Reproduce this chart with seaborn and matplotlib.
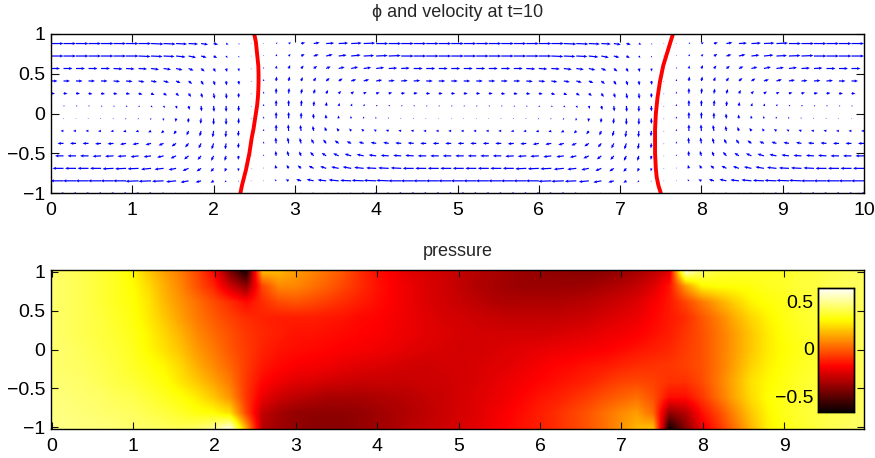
import numpy as np
import matplotlib
matplotlib.use('Agg')
import matplotlib.pyplot as plt
import seaborn as sns

# velocity, 1 unit = half a pixel of arrow length
# the field repeats every 33 columns in the picture, so one stretch is listed
u_period = [
    [25,25,25,25,25,25,25,25,25,24,22,19,14,9,5,2,1, 1,3,5,8,12,16,19,21,23,24,25,25,25,25,25,25],
    [25,25,25,25,25,25,25,24,23,22,19,15,11,7,3,1,0, 0,2,4,7,10,13,16,19,21,23,24,25,25,25,25,25],
    [18,18,18,18,18,18,17,17,16,15,13,10,7,4,2,1,0, 0,1,3,5,7,9,12,14,15,16,17,17,18,18,18,18],
    [13,13,13,13,13,13,13,12,12,11,9,7,5,3,1,1,0, 0,1,2,3,5,7,8,10,11,12,12,13,13,13,13,13],
    [8,8,8,8,8,8,8,8,7,7,6,5,3,2,1,0,0, 0,0,1,2,3,4,5,6,6,7,7,8,8,8,8,8],
    [3,3,3,3,3,3,3,3,3,3,2,2,1,1,0,0,0, 0,0,0,1,1,1,2,2,2,3,3,3,3,3,3,3],
    [-1,-1,-1,-2,-2,-2,-2,-2,-2,-1,-1,-1,-1,0,0,0,0, 0,0,0,0,-1,-1,-1,-1,-1,-2,-2,-2,-2,-2,-1,-1],
    [-6,-6,-6,-6,-6,-6,-6,-6,-6,-5,-5,-4,-3,-2,-1,-1,0, 0,0,-1,-2,-2,-3,-4,-4,-5,-5,-6,-6,-6,-6,-6,-6],
    [-12,-12,-12,-12,-12,-12,-12,-12,-11,-10,-9,-7,-5,-4,-2,-1,0, 0,-1,-2,-3,-5,-6,-8,-9,-10,-11,-11,-12,-12,-12,-12,-12],
    [-17,-17,-17,-17,-17,-17,-17,-16,-15,-13,-11,-9,-7,-5,-3,-1,0, 0,-1,-3,-4,-7,-9,-11,-13,-14,-15,-16,-16,-17,-17,-17,-17],
    [-22,-22,-22,-22,-22,-22,-22,-22,-20,-18,-15,-12,-9,-6,-3,-1,0, 0,-2,-4,-7,-10,-12,-15,-17,-19,-20,-21,-21,-22,-22,-22,-22],
    [-26,-26,-26,-26,-26,-26,-26,-26,-25,-23,-20,-16,-11,-6,-3,-1,0, 0,-3,-6,-10,-14,-17,-20,-22,-24,-25,-25,-26,-26,-26,-26,-26],
    [-6,-6,-6,-6,-6,-6,-6,-6,-6,-5,-4,-4,-3,-2,-1,0,0, 0,-1,-1,-2,-3,-3,-4,-4,-5,-5,-5,-6,-6,-6,-6,-6],
]
v_period = [
    [0,0,0,0,0,0,0,0,-1,-1,-1,-1,-2,-2,-2,-2,-1, 1,2,2,2,2,1,1,1,1,0,0,0,0,0,0,0],
    [0,0,0,0,0,0,0,-1,-1,-1,-2,-3,-3,-4,-4,-3,-1, 2,4,4,4,3,3,2,2,1,1,1,0,0,0,0,0],
    [0,0,0,0,0,-1,-1,-1,-2,-2,-3,-4,-6,-7,-7,-6,-2, 3,6,7,6,5,4,3,3,2,2,1,1,0,0,0,0],
    [0,0,0,0,0,-1,-1,-2,-2,-3,-4,-6,-8,-9,-9,-8,-2, 4,9,9,8,7,6,5,3,3,2,1,1,1,0,0,0],
    [0,0,0,-1,-1,-1,-1,-2,-3,-4,-5,-7,-9,-11,-11,-9,-2, 4,11,11,10,9,7,5,4,3,2,2,1,1,0,0,0],
    [0,0,0,0,-1,-1,-2,-2,-3,-4,-6,-8,-11,-12,-12,-11,-2, 4,12,12,12,10,8,6,5,4,2,2,1,1,0,0,0],
    [0,0,0,0,-1,-1,-2,-2,-3,-5,-7,-9,-11,-13,-13,-11,-2, 4,13,13,12,10,8,6,5,4,3,2,1,1,0,0,0],
    [0,0,0,0,-1,-1,-2,-2,-3,-5,-7,-9,-11,-13,-13,-11,-2, 4,13,13,12,10,8,6,5,4,3,2,1,1,0,0,0],
    [0,0,0,0,-1,-1,-2,-2,-3,-4,-6,-8,-10,-12,-12,-10,-2, 4,12,12,11,9,8,6,4,3,2,2,1,1,0,0,0],
    [0,0,0,0,-1,-1,-1,-2,-2,-3,-5,-7,-8,-10,-10,-8,-1, 3,10,10,9,8,6,5,4,3,2,1,1,1,0,0,0],
    [0,0,0,0,0,-1,-1,-1,-2,-2,-3,-5,-6,-7,-7,-6,-1, 2,7,7,6,5,4,3,3,2,1,1,1,0,0,0,0],
    [0,0,0,0,0,0,0,-1,-1,-1,-2,-3,-3,-4,-3,-2,-1, 1,3,3,3,3,2,2,1,1,1,1,0,0,0,0,0],
    [0,0,0,0,0,0,0,0,0,0,-1,-1,-1,-1,-1,0,0, 0,1,1,1,1,0,0,0,0,0,0,0,0,0,0,0],
]

# the two red interfaces, sampled every 0.1 in y
curve_y = [1.0, .9, .8, .7, .6, .5, .4, .3, .2, .1, 0, -.1, -.2, -.3, -.4, -.5, -.6, -.7, -.8, -.9, -1.0]
left_x = [2.50, 2.52, 2.53, 2.54, 2.55, 2.553, 2.553, 2.55, 2.545, 2.535, 2.52, 2.505, 2.49, 2.47, 2.455, 2.44, 2.42, 2.40, 2.375, 2.35, 2.33]
right_x = [7.65, 7.62, 7.59, 7.56, 7.53, 7.51, 7.49, 7.475, 7.46, 7.45, 7.44, 7.435, 7.43, 7.43, 7.43, 7.43, 7.435, 7.44, 7.45, 7.47, 7.50]

# pressure, rows from y=1 down to y=-1, columns x=0,0.2,...,10
pressure = [
    [.45,.43,.41,.38,.35,.3,.2,.12,.05,-.05,-.18,-.45,-.66,.2,.18,.12,.08,.03,-.02,-.1,-.16,-.2,-.24,-.26,-.28,-.3,-.32,-.34,-.36,-.38,-.39,-.4,-.41,-.42,-.41,-.39,-.36,-.32,-.25,.62,.44,.39,.38,.37,.36,.36,.38,.39,.41,.42,.43],
    [.45,.43,.41,.38,.35,.31,.24,.15,.07,-.03,-.12,-.28,-.4,-.05,.08,.08,.04,0,-.05,-.1,-.15,-.19,-.22,-.25,-.27,-.3,-.33,-.35,-.37,-.38,-.38,-.38,-.38,-.37,-.35,-.33,-.3,-.25,-.15,.12,.3,.32,.32,.33,.35,.36,.38,.39,.41,.42,.43],
    [.45,.43,.41,.38,.35,.32,.26,.17,.1,.03,-.04,-.1,-.17,-.1,-.04,-.02,-.04,-.07,-.1,-.13,-.16,-.19,-.22,-.25,-.27,-.29,-.31,-.33,-.34,-.34,-.34,-.34,-.33,-.32,-.3,-.28,-.25,-.2,-.14,-.05,.05,.14,.22,.29,.32,.34,.37,.39,.41,.42,.43],
    [.45,.43,.41,.39,.36,.33,.27,.2,.12,.05,-.01,-.06,-.1,-.12,-.13,-.13,-.13,-.14,-.15,-.17,-.18,-.2,-.22,-.24,-.26,-.27,-.28,-.29,-.3,-.3,-.3,-.3,-.29,-.28,-.26,-.24,-.22,-.18,-.14,-.1,-.02,.06,.15,.23,.29,.33,.36,.38,.4,.42,.43],
    [.45,.43,.41,.39,.37,.34,.29,.23,.16,.08,.02,-.03,-.08,-.11,-.13,-.15,-.15,-.16,-.17,-.18,-.19,-.21,-.22,-.24,-.25,-.26,-.27,-.27,-.27,-.27,-.27,-.26,-.25,-.24,-.22,-.21,-.19,-.16,-.13,-.08,-.03,.04,.12,.2,.27,.32,.35,.37,.4,.41,.43],
    [.45,.44,.42,.40,.38,.35,.3,.25,.19,.11,.05,-.02,-.07,-.12,-.15,-.16,-.17,-.18,-.19,-.2,-.21,-.22,-.24,-.25,-.26,-.27,-.27,-.26,-.25,-.24,-.23,-.22,-.21,-.2,-.19,-.17,-.15,-.13,-.11,-.07,-.03,.04,.12,.2,.27,.31,.34,.37,.39,.41,.43],
    [.45,.44,.43,.41,.39,.36,.33,.29,.23,.15,.08,.01,-.07,-.14,-.17,-.19,-.2,-.21,-.23,-.24,-.25,-.26,-.27,-.28,-.27,-.27,-.26,-.25,-.24,-.22,-.2,-.18,-.17,-.15,-.14,-.12,-.1,-.09,-.08,-.06,-.03,.04,.13,.22,.28,.32,.35,.37,.39,.41,.43],
    [.46,.45,.44,.42,.40,.38,.35,.32,.26,.2,.13,.05,-.08,-.17,-.21,-.24,-.25,-.27,-.28,-.29,-.29,-.29,-.29,-.28,-.28,-.27,-.26,-.24,-.22,-.2,-.18,-.16,-.14,-.12,-.09,-.06,-.05,-.06,-.09,-.09,-.04,.05,.15,.25,.3,.33,.36,.38,.4,.41,.43],
    [.47,.46,.45,.44,.42,.41,.38,.35,.32,.27,.2,.1,-.08,-.22,-.28,-.31,-.33,-.35,-.35,-.35,-.34,-.33,-.32,-.3,-.29,-.27,-.25,-.23,-.21,-.18,-.15,-.13,-.1,-.07,-.03,0,.03,-.03,-.16,-.16,-.08,.03,.14,.24,.31,.34,.37,.39,.4,.42,.43],
    [.48,.47,.46,.45,.44,.43,.41,.39,.36,.33,.31,.25,-.05,-.3,-.36,-.39,-.4,-.4,-.4,-.39,-.37,-.35,-.33,-.31,-.29,-.27,-.25,-.22,-.19,-.16,-.13,-.1,-.06,-.02,.03,.08,.12,.02,-.4,-.33,-.16,-.05,.08,.2,.29,.34,.37,.39,.41,.42,.44],
    [.49,.48,.47,.47,.46,.45,.44,.43,.42,.44,.5,.62,.15,-.33,-.37,-.39,-.41,-.41,-.41,-.39,-.37,-.35,-.32,-.3,-.28,-.26,-.24,-.21,-.18,-.15,-.13,-.1,-.06,-.02,.03,.1,.17,.2,-.66,-.42,-.22,-.1,.03,.16,.28,.33,.36,.39,.41,.43,.44],
]

top_xticks = list(range(11))
bottom_xticks = list(range(10))
yticks = [-1, -0.5, 0, 0.5, 1]
ytick_labels = ['\u22121', '\u22120.5', '0', '0.5', '1']
cbar_ticks = [-0.5, 0, 0.5]
cbar_labels = ['\u22120.5', '0', '0.5']

sns.set_style('white')
plt.rcParams['font.family'] = ['Liberation Sans', 'DejaVu Sans']

W, H = 875, 458
fig = plt.figure(figsize=(W / 100, H / 100), dpi=100)
ax1 = fig.add_axes([51 / W, (H - 193) / H, 813 / W, 159 / H])
ax2 = fig.add_axes([51 / W, (H - 429) / H, 813 / W, 159 / H])
cax = fig.add_axes([818 / W, (H - 411.5) / H, 36 / W, 123.5 / H])


def box_ticks(ax, length):
    for sp in ax.spines.values():
        sp.set_visible(True)
        sp.set_color('black')
        sp.set_linewidth(1.0)
        sp.set_zorder(5)
    ax.tick_params(direction='in', length=length, width=0.8, color='#111111',
                   top=True, right=True, bottom=True, left=True,
                   labelsize=14, labelcolor='black')
    ax.tick_params(axis='x', pad=6.5)
    ax.tick_params(axis='y', pad=4)


# top panel: velocity and interfaces
U = np.hstack([u_period, u_period])
V = np.hstack([v_period, v_period])
X, Y = np.meshgrid(np.linspace(0, 10, U.shape[1]), 0.88 - 0.157 * np.arange(U.shape[0]))
ax1.quiver(X, Y, U, V, color='#0000ff', angles='uv', scale_units='dots', scale=2,
           units='dots', width=1.2, headwidth=2.6, headlength=3.0, headaxislength=2.6,
           minlength=0.6, clip_on=True)
sns.lineplot(x=left_x, y=curve_y, sort=False, estimator=None, color='red', lw=2.8, ax=ax1)
sns.lineplot(x=right_x, y=curve_y, sort=False, estimator=None, color='red', lw=2.8, ax=ax1)
ax1.set_xlim(0, 10)
ax1.set_ylim(-1, 1)
ax1.set_xticks(top_xticks)
ax1.set_yticks(yticks)
ax1.set_yticklabels(ytick_labels)
box_ticks(ax1, 5.5)
ax1.set_title('\u03d5 and velocity at t=10', fontsize=13, pad=12)

# bottom panel: heatmap sets up the axes and colour bar, the mesh is then
# swapped for an image so the colours blend smoothly between the cells
P = np.array(pressure)
sns.heatmap(P, cmap='hot', vmin=-0.66, vmax=0.64, xticklabels=False,
            yticklabels=False, ax=ax2, cbar_ax=cax)
ax2.collections[0].set_visible(False)
ax2.imshow(P, cmap='hot', vmin=-0.66, vmax=0.64, aspect='auto', interpolation='bilinear',
           interpolation_stage='data', extent=(-0.5, P.shape[1] - 0.5, P.shape[0] - 0.5, -0.5))
dx = 0.2
dy = 0.204
ax2.set_xlim(0.01 / dx - 0.05, (9.98 + 0.01) / dx)
ax2.set_ylim(P.shape[0] - 1, 0)
ax2.set_xticks([(t + 0.01) / dx for t in bottom_xticks])
ax2.set_xticklabels([str(t) for t in bottom_xticks])
ax2.set_yticks([(1.02 - t) / dy for t in yticks])
ax2.set_yticklabels(ytick_labels)
box_ticks(ax2, 5)
ax2.set_title('pressure', fontsize=13, pad=10)

cax.yaxis.set_ticks_position('left')
cax.set_yticks(cbar_ticks)
cax.set_yticklabels(cbar_labels)
cax.tick_params(length=0, labelsize=14, labelcolor='black', pad=3)
for sp in cax.spines.values():
    sp.set_visible(True)
    sp.set_color('black')
    sp.set_linewidth(1.0)

fig.savefig('out.png', dpi=100)
